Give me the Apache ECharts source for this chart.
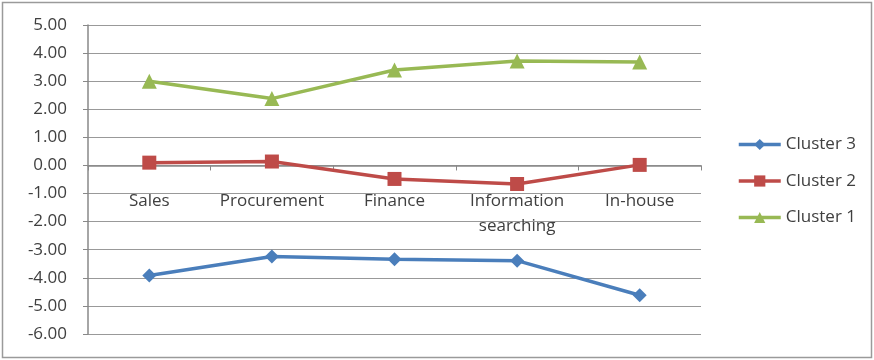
<!DOCTYPE html>
<html><head><meta charset="utf-8">
<script src="https://cdn.jsdelivr.net/npm/echarts@6/dist/echarts.min.js"></script>
<style>html,body{margin:0;padding:0;background:#fff}#c{width:874px;height:360px}</style>
</head><body><div id="c"></div>
<script>
const categories = ['Sales', 'Procurement', 'Finance', 'Information\nsearching', 'In-house'];
const cluster1 = [3.0, 2.38, 3.4, 3.72, 3.68];
const cluster2 = [0.1, 0.14, -0.48, -0.66, 0.02];
const cluster3 = [-3.92, -3.24, -3.34, -3.39, -4.62];
const yMin = -6, yMax = 5, yStep = 1;
const legendOrder = ['Cluster 3', 'Cluster 2', 'Cluster 1'];

const font = '"Open Sans", Lato, sans-serif';
const gridTop = 25, gridBottom = 26, H = 360;
const plotH = H - gridTop - gridBottom;
// shift the category axis from the bottom edge up to the value 0
const zeroOffset = -plotH * (0 - yMin) / (yMax - yMin);

const chart = echarts.init(document.getElementById('c'));
function s(name, data, color, symbol, size) {
  return { name, type: 'line', data, symbol, symbolSize: size,
    lineStyle: { color, width: 3.5 }, itemStyle: { color },
    emphasis: { disabled: true }, z: 3 };
}
chart.setOption({
  animation: false,
  textStyle: { fontFamily: font },
  graphic: [{ type: 'rect', shape: { x: 2.5, y: 2.5, width: 869, height: 355 },
    style: { fill: 'none', stroke: '#9a9a9a', lineWidth: 1.5 }, silent: true }],
  grid: { left: 88, right: 173, top: gridTop, bottom: gridBottom, containLabel: false, outerBoundsMode: 'none' },
  xAxis: {
    type: 'category', data: categories, boundaryGap: true, position: 'bottom', offset: zeroOffset,
    axisLine: { onZero: false, lineStyle: { color: '#888', width: 1.5 } },
    axisTick: { show: true, length: 5, lineStyle: { color: '#888' }, inside: false },
    axisLabel: { color: '#404040', fontSize: 17, margin: 23, lineHeight: 25, fontFamily: font,
      interval: 0, hideOverlap: false },
    splitLine: { show: false }
  },
  yAxis: {
    type: 'value', min: yMin, max: yMax, interval: yStep,
    axisLine: { show: true, lineStyle: { color: '#888', width: 1.5 } },
    axisTick: { show: true, length: 5, lineStyle: { color: '#888' } },
    axisLabel: { color: '#404040', fontSize: 17, margin: 21, fontFamily: font,
      formatter: v => v.toFixed(2) },
    splitLine: { show: true, lineStyle: { color: '#999', width: 1.2 } }
  },
  legend: {
    data: legendOrder, orient: 'vertical', left: 732, top: 131, itemGap: 19.5,
    itemWidth: 42, itemHeight: 14,
    lineStyle: { width: 3.5 },
    textStyle: { color: '#404040', fontSize: 17, fontFamily: font }
  },
  series: [
    s('Cluster 3', cluster3, '#4a7ebb', 'diamond', 14),
    s('Cluster 2', cluster2, '#be4b48', 'rect', 14),
    s('Cluster 1', cluster1, '#98b954', 'triangle', 15)
  ]
});
</script></body></html>
